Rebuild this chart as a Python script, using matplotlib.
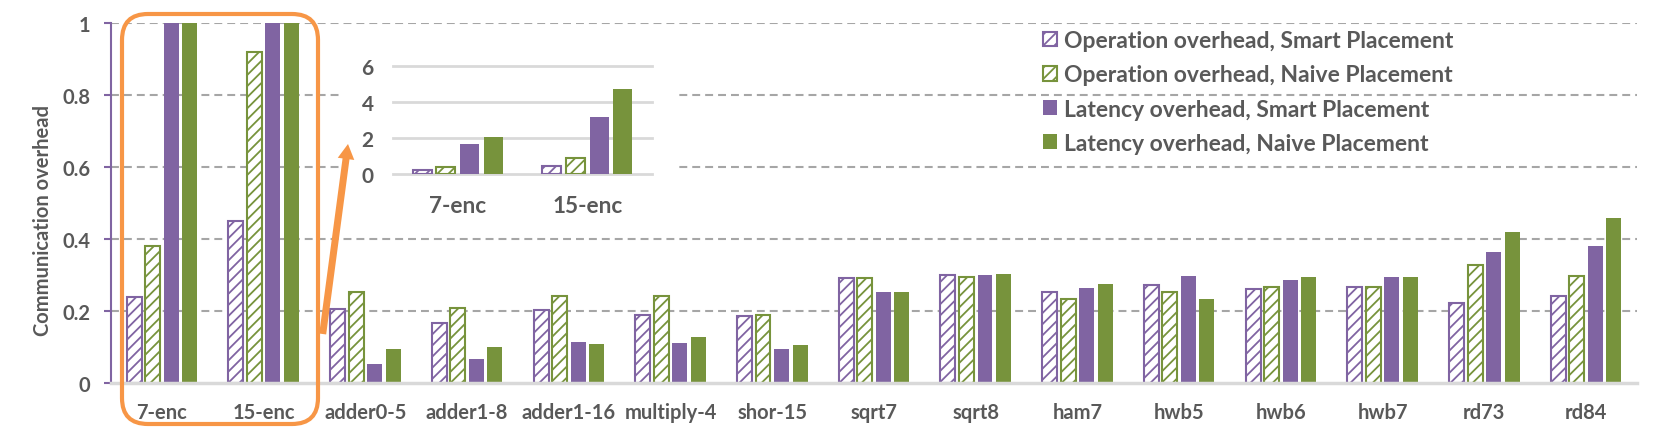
import matplotlib
matplotlib.use('Agg')
import matplotlib.pyplot as plt
import numpy as np
from matplotlib.patches import Patch, FancyBboxPatch, FancyArrowPatch, Rectangle

# data
circuits = ['7-enc', '15-enc', 'adder0-5', 'adder1-8', 'adder1-16', 'multiply-4', 'shor-15',
            'sqrt7', 'sqrt8', 'ham7', 'hwb5', 'hwb6', 'hwb7', 'rd73', 'rd84']
op_smart = [0.24, 0.45, 0.205, 0.166, 0.202, 0.188, 0.185, 0.293, 0.299, 0.252, 0.272, 0.261, 0.268, 0.221, 0.243]
op_naive = [0.38, 0.92, 0.252, 0.207, 0.241, 0.241, 0.188, 0.291, 0.294, 0.232, 0.252, 0.266, 0.268, 0.327, 0.296]
lat_smart = [1.65, 3.15, 0.053, 0.067, 0.114, 0.111, 0.094, 0.253, 0.300, 0.264, 0.297, 0.286, 0.294, 0.365, 0.380]
lat_naive = [2.05, 4.70, 0.094, 0.100, 0.108, 0.128, 0.106, 0.253, 0.303, 0.275, 0.233, 0.294, 0.294, 0.419, 0.458]

inset_circuits = circuits[:2]
yticks_main = [0, 0.2, 0.4, 0.6, 0.8, 1.0]
yticks_inset = [0, 2, 4, 6]

labels = ['Operation overhead, Smart Placement', 'Operation overhead, Naive Placement',
          'Latency overhead, Smart Placement', 'Latency overhead, Naive Placement']

PURPLE = '#8064A2'
GREEN = '#77933C'
ORANGE = '#F79646'
TXT = '#595959'

plt.rcParams['font.family'] = ['Lato', 'DejaVu Sans']
plt.rcParams['font.weight'] = 'bold'
plt.rcParams['hatch.linewidth'] = 1.3

W, H = 1660, 439
fig = plt.figure(figsize=(W / 100, H / 100), dpi=100)

series = [(op_smart, PURPLE, True), (op_naive, GREEN, True),
          (lat_smart, PURPLE, False), (lat_naive, GREEN, False)]
offsets = (np.arange(4) - 1.5) * 0.182
bw = 0.147


def draw_bars(ax, n, vals_slice):
    x = np.arange(n)
    for (vals, col, hatched), off in zip(series, offsets):
        v = vals[vals_slice]
        if hatched:
            ax.bar(x + off, v, bw, facecolor='white', edgecolor=col, hatch='///',
                   linewidth=1.5, zorder=3)
        else:
            ax.bar(x + off, v, bw, color=col, linewidth=0, zorder=3)


# main axes
ax = fig.add_axes([111 / W, 1 - 384 / H, 1526 / W, 360 / H])
draw_bars(ax, len(circuits), slice(None))
ax.set_xlim(-0.5, len(circuits) - 0.5)
ax.set_ylim(0, 1)
ax.set_yticks(yticks_main)
ax.set_yticklabels(['0', '0.2', '0.4', '0.6', '0.8', '1'])
ax.set_xticks(np.arange(len(circuits)))
ax.set_xticklabels(circuits)
for y in yticks_main[1:]:
    ax.axhline(y, color='#A6A6A6', lw=1.5, ls=(0, (3.8, 2.4)), zorder=1)
for s in ['top', 'right']:
    ax.spines[s].set_visible(False)
ax.spines['left'].set_color(PURPLE)
ax.spines['left'].set_linewidth(1.5)
ax.spines['bottom'].set_color('#D9D9D9')
ax.spines['bottom'].set_linewidth(2.5)
ax.spines['bottom'].set_zorder(4)
ax.tick_params(axis='y', length=5, width=1.5, color=PURPLE, pad=10, labelsize=14.5, labelcolor=TXT)
ax.tick_params(axis='x', length=0, pad=14, labelsize=14.5, labelcolor=TXT)
fig.text(43 / W, 1 - 220 / H, 'Communication overhead', rotation=90, ha='center', va='center',
         fontsize=14.5, color=TXT, fontweight='bold')

# legend
handles = [Patch(facecolor='white', edgecolor=PURPLE, hatch='///', linewidth=1.5),
           Patch(facecolor='white', edgecolor=GREEN, hatch='///', linewidth=1.5),
           Patch(facecolor=PURPLE, edgecolor='none'),
           Patch(facecolor=GREEN, edgecolor='none')]
leg = fig.legend(handles, labels, loc='upper left', bbox_to_anchor=(1043 / W, 1 - 31 / H),
                 frameon=False, fontsize=16.5, handlelength=0.61, handleheight=0.61,
                 handletextpad=0.3, labelspacing=0.58, borderpad=0, borderaxespad=0)
for t in leg.get_texts():
    t.set_color(TXT)

# white backdrop and inset
fig.add_artist(Rectangle((343 / W, 1 - 225 / H), (675 - 343) / W, (225 - 36) / H,
                         transform=fig.transFigure, facecolor='white', edgecolor='none', zorder=5))
axi = fig.add_axes([393 / W, 1 - 175.3 / H, (652 - 393) / W, (175.3 - 66.7) / H])
axi.set_zorder(6)
draw_bars(axi, len(inset_circuits), slice(0, 2))
axi.set_xlim(-0.5, 1.5)
axi.set_ylim(0, 6)
axi.set_yticks(yticks_inset)
axi.set_xticks(np.arange(len(inset_circuits)))
axi.set_xticklabels(inset_circuits)
for y in yticks_inset:
    axi.axhline(y, color='#D9D9D9', lw=2, zorder=1, clip_on=False)
for s in axi.spines.values():
    s.set_visible(False)
axi.tick_params(axis='y', length=0, pad=14, labelsize=15, labelcolor=TXT)
axi.tick_params(axis='x', length=0, pad=15, labelsize=16.3, labelcolor=TXT)

# orange highlight box and arrow
box = FancyBboxPatch((1.22, (H - 425) / 100), 1.96, 4.10, boxstyle='round,pad=0,rounding_size=0.26',
                     transform=fig.dpi_scale_trans, fill=False, edgecolor=ORANGE, linewidth=3,
                     zorder=10, clip_on=False)
fig.add_artist(box)
arrow = FancyArrowPatch((3.227, (H - 335) / 100), (3.48, (H - 145) / 100),
                        transform=fig.dpi_scale_trans,
                        arrowstyle='simple,head_length=0.9,head_width=1.0,tail_width=0.42',
                        mutation_scale=12, color=ORANGE, linewidth=0, shrinkA=0, shrinkB=0,
                        zorder=10)
fig.add_artist(arrow)

fig.savefig('out.png', dpi=100)
